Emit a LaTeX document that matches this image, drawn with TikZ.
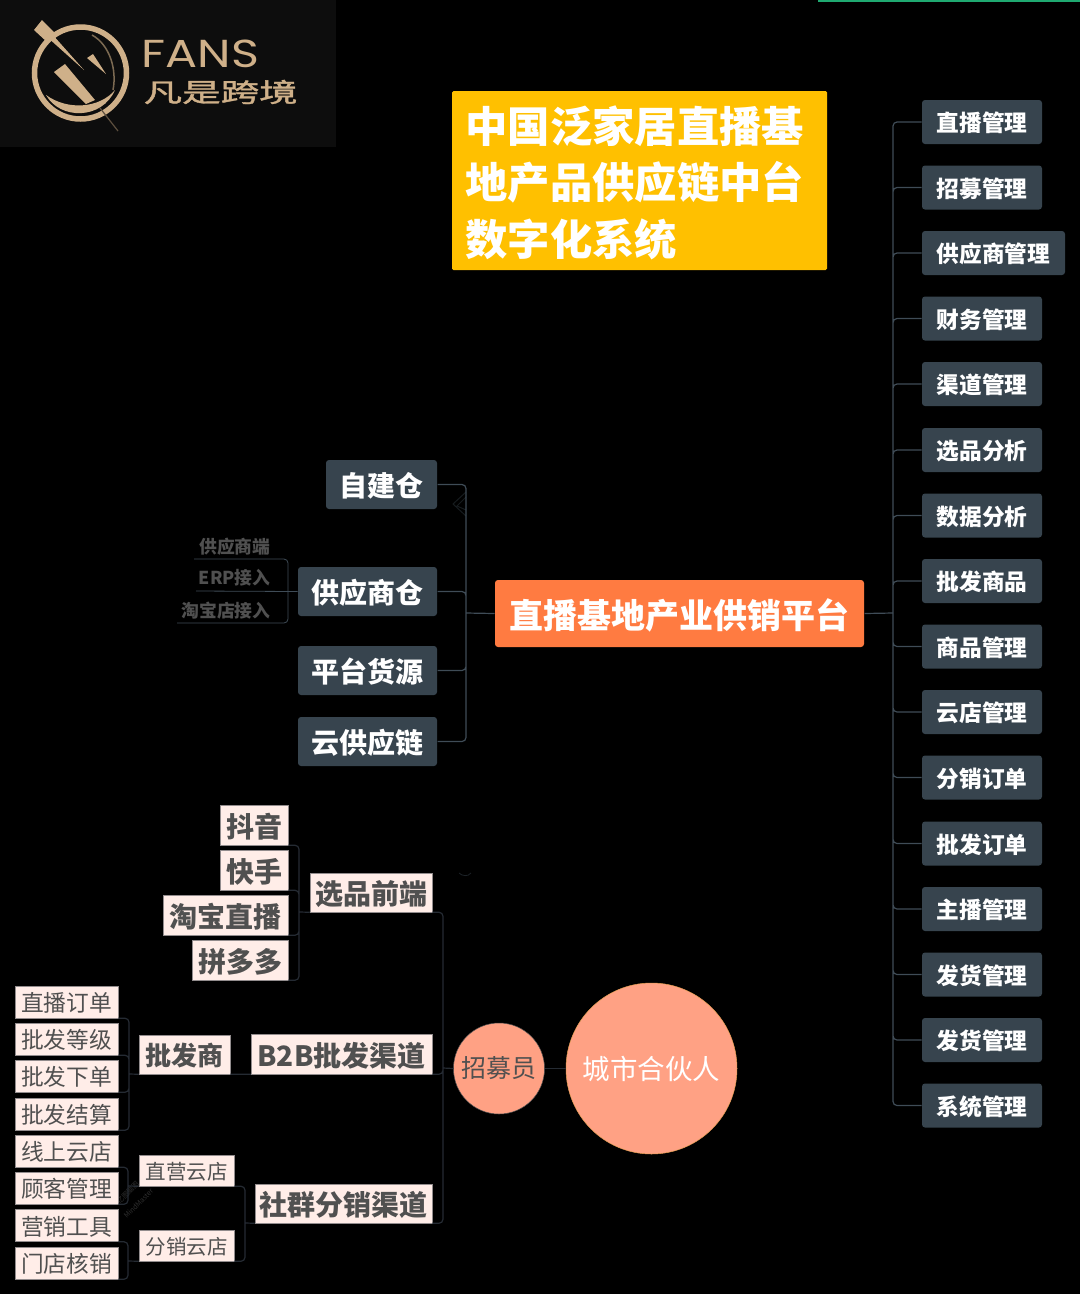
\documentclass[tikz,border=0pt]{standalone}
\usepackage{fontspec}
\setmainfont{Noto Sans CJK SC}
\newfontfamily\logofont{Poppins}
\newfontfamily\logocjk[FakeBold=1.2]{Noto Sans CJK SC}
\usepackage{tikz}
\definecolor{slatebox}{HTML}{37444E}
\definecolor{slateline}{HTML}{3F4C57}
\definecolor{darkline}{HTML}{252B33}
\definecolor{pinkbox}{HTML}{FFEDE8}
\definecolor{pinktext}{HTML}{505050}
\definecolor{salmon}{HTML}{FFA184}
\definecolor{logogold}{HTML}{CFB089}
\definecolor{titleyellow}{HTML}{FFC000}
\definecolor{rootorange}{HTML}{FF7B41}
\definecolor{topgreen}{HTML}{1FA971}
\definecolor{markgrey}{HTML}{2E2E2E}
\begin{document}
\begin{tikzpicture}[x=1pt,y=-1pt,line width=1pt,
  slatenode/.style={fill=slatebox,text=white,rounded corners=3pt,inner sep=0pt},
  rightnode/.style={slatenode,minimum height=44pt,text height=21.8pt,text depth=2.3pt,font=\fontsize{22.7}{26}\selectfont\bfseries},
  leftnode/.style={slatenode,minimum height=49pt,text height=26.9pt,text depth=2.8pt,font=\fontsize{28}{32}\selectfont\bfseries},
  pinknode/.style={fill=pinkbox,draw=darkline!50!pinkbox,line width=.5pt,text=pinktext,inner sep=0pt},
  bignode/.style={pinknode,text height=26.9pt,text depth=2.8pt,font=\fontsize{28}{32}\selectfont\bfseries},
  leafnode/.style={pinknode,minimum width=103pt,minimum height=32pt,text height=21.8pt,text depth=2.3pt,font=\fontsize{22.7}{26}\selectfont},
  storenode/.style={pinknode,minimum width=95pt,minimum height=31pt,text height=19.7pt,text depth=2.1pt,font=\fontsize{20.5}{24}\selectfont},
  ghostnode/.style={anchor=east,inner sep=0pt,text=pinktext,font=\fontsize{17.8}{22}\selectfont\bfseries},
  slatelink/.style={draw=slateline,line width=1.2pt,rounded corners=4pt},
  darklink/.style={draw=darkline,line width=1.2pt,rounded corners=4pt}]
\useasboundingbox[fill=black] (0,0) rectangle (1080,1294);
\fill[topgreen] (818,0) rectangle (1080,2);
% logo
\fill[black!95!white] (0,0) rectangle (336,147);
\draw[logogold,line width=5.5pt] (80.5,73) circle (46);
\fill[logogold] (46,95) .. controls (60,120) and (102,120) .. (115,90) .. controls (100,108) and (68,111) .. (46,95);
\draw[logogold!60!black,line width=1.5pt] (92,35) .. controls (110,45) and (117,70) .. (113,90);
\fill[logogold] (34,30) -- (42,20) -- (55,33) -- (47,42) -- cycle;
\fill[logogold] (46,36) -- (52,34) -- (84,70) -- cycle;
\fill[logogold] (87,58) -- (93,54) -- (106,74) -- cycle;
\fill[logogold] (54,72) -- (65,64) -- (95,100) -- (86,104) -- cycle;
\draw[logogold!45!black,line width=1.2pt] (100,108) -- (118,131);
\node[anchor=west,inner sep=0pt,text=logogold,xscale=1.22,transform shape,font=\logofont\fontsize{39}{44}\selectfont] (fans) at (141,54) {FANS};
\node[anchor=west,inner sep=0pt,text=logogold,xscale=1.48,transform shape,font=\logocjk\fontsize{26}{30}\selectfont] (fanshi) at (143,92) {凡是跨境};
% title
\node[fill=titleyellow,rounded corners=1.5pt,minimum width=375pt,minimum height=179pt,inner sep=0pt] (titlebox) at (639.5,180.5) {};
\node[anchor=west,inner sep=0pt,text=white,align=left,font=\fontsize{42.3}{56.5}\selectfont\bfseries] (title) at (465,182.5) {中国泛家居直播基\\地产品供应链中台\\数字化系统};
% root
\node[fill=rootorange,text=white,rounded corners=3pt,inner sep=0pt,minimum width=369pt,minimum height=67pt,text height=32.6pt,text depth=3.4pt,font=\fontsize{34}{38}\selectfont\bfseries] (root) at (679.5,613.5) {直播基地产业供销平台};
\coordinate (rightspine) at (893,613);
\coordinate (leftspine) at (466,613);
\draw[slatelink] (root.east) -- (rightspine);
\draw[slatelink] (root.west) -- (leftspine);
% right column
\node[rightnode,minimum width=120pt] (zhibo) at (982,122) {直播管理};
\node[rightnode,minimum width=120pt] (zhaomu) at (982,187.5) {招募管理};
\node[rightnode,minimum width=143pt] (gongying) at (993.5,253) {供应商管理};
\node[rightnode,minimum width=120pt] (caiwu) at (982,318.5) {财务管理};
\node[rightnode,minimum width=120pt] (qudao) at (982,384) {渠道管理};
\node[rightnode,minimum width=120pt] (xuanpin) at (982,450) {选品分析};
\node[rightnode,minimum width=120pt] (shuju) at (982,515.5) {数据分析};
\node[rightnode,minimum width=120pt] (pifa) at (982,581) {批发商品};
\node[rightnode,minimum width=120pt] (shangpin) at (982,646.5) {商品管理};
\node[rightnode,minimum width=120pt] (yundian) at (982,712) {云店管理};
\node[rightnode,minimum width=120pt] (fenxiao) at (982,777.5) {分销订单};
\node[rightnode,minimum width=120pt] (pifadan) at (982,843.5) {批发订单};
\node[rightnode,minimum width=120pt] (zhubo) at (982,909) {主播管理};
\node[rightnode,minimum width=120pt] (fahuoa) at (982,974.5) {发货管理};
\node[rightnode,minimum width=120pt] (fahuob) at (982,1040) {发货管理};
\node[rightnode,minimum width=120pt] (xitong) at (982,1105.5) {系统管理};
\draw[slatelink] (rightspine) |- (zhibo.west) (rightspine) |- (zhaomu.west) (rightspine) |- (gongying.west) (rightspine) |- (caiwu.west) (rightspine) |- (qudao.west) (rightspine) |- (xuanpin.west) (rightspine) |- (shuju.west) (rightspine) |- (pifa.west) (rightspine) |- (shangpin.west) (rightspine) |- (yundian.west) (rightspine) |- (fenxiao.west) (rightspine) |- (pifadan.west) (rightspine) |- (zhubo.west) (rightspine) |- (fahuoa.west) (rightspine) |- (fahuob.west) (rightspine) |- (xitong.west);
% warehouses
\node[leftnode,minimum width=111pt] (zijian) at (381.5,484.5) {自建仓};
\node[leftnode,minimum width=139pt] (gongcang) at (367.5,591.5) {供应商仓};
\node[leftnode,minimum width=139pt] (pingtai) at (367.5,670.5) {平台货源};
\node[leftnode,minimum width=139pt] (yungong) at (367.5,741.5) {云供应链};
\draw[draw=slateline!35!black,line width=1pt] (466,492) -- (453,504) -- (466,516) (466,497) -- (457,506) -- (466,510);
\draw[slatelink] (leftspine) |- (zijian.east) (leftspine) |- (gongcang.east) (leftspine) |- (pingtai.east) (leftspine) |- (yungong.east);
\draw[draw=slateline!45!black,line width=.8pt] (459,873) .. controls (462,876) and (468,877) .. (471,873);
\node[ghostnode] (duan) at (271,546.5) {供应商端};
\node[ghostnode] (erp) at (271,577.5) {ERP接入};
\node[ghostnode] (taobao) at (271,610.5) {淘宝店接入};
\coordinate (duanend) at (194,559);
\coordinate (erpend) at (196,591);
\coordinate (taobaoend) at (177,623);
\coordinate (gongjoin) at (288,591);
\draw[slatelink,line width=.8pt] (gongjoin) |- (duanend) (gongjoin) |- (taobaoend) (gongcang.west) -- (erpend);
% front end
\node[bignode,minimum width=68pt,minimum height=40pt] (douyin) at (254,825) {抖音};
\node[bignode,minimum width=68pt,minimum height=40pt] (kuaishou) at (254,870) {快手};
\node[bignode,minimum width=125pt,minimum height=40pt] (taobo) at (225.5,915) {淘宝直播};
\node[bignode,minimum width=96pt,minimum height=40pt] (pdd) at (240,960) {拼多多};
\node[bignode,minimum width=122pt,minimum height=39pt] (qianduan) at (371,892.5) {选品前端};
\coordinate (qianjoin) at (299,912);
\draw[darklink] (qianjoin) |- (douyin.south east) (qianjoin) |- (kuaishou.south east) (qianjoin) |- (taobo.south east) (qianjoin) |- (pdd.south east) (qianjoin) -- (qianduan.south west);
% b2b
\node[bignode,minimum width=181pt,minimum height=40pt] (btob) at (341.5,1054) {B2B批发渠道};
\node[bignode,minimum width=91pt,minimum height=39pt,text height=25pt,text depth=2.6pt,font=\fontsize{26}{30}\selectfont\bfseries] (pifashang) at (184.5,1054.5) {批发商};
\node[leafnode] (zbdd) at (66.5,1002) {直播订单};
\node[leafnode] (pfdj) at (66.5,1039) {批发等级};
\node[leafnode] (pfxd) at (66.5,1076) {批发下单};
\node[leafnode] (pfjs) at (66.5,1114) {批发结算};
\coordinate (pifajoin) at (129,1074);
\draw[darklink] (pifajoin) |- (zbdd.south east) (pifajoin) |- (pfdj.south east) (pifajoin) |- (pfxd.south east) (pifajoin) |- (pfjs.south east) (pifajoin) -- (pifashang.south west) (pifashang.south east) -- (btob.south west);
% cloud stores
\node[rotate=45,inner sep=0pt,text=markgrey,align=center,font=\fontsize{7}{15}\selectfont] (mark) at (133,1198) {亿图脑图\\MindMaster};
\node[bignode,minimum width=177pt,minimum height=39pt] (shequn) at (343.5,1203.5) {社群分销渠道};
\node[storenode] (zhiying) at (186.5,1170.5) {直营云店};
\node[storenode] (fendian) at (186.5,1245.5) {分销云店};
\node[leafnode] (xsyd) at (66.5,1151) {线上云店};
\node[leafnode] (gkgl) at (66.5,1188) {顾客管理};
\node[leafnode] (yxgj) at (66.5,1225.5) {营销工具};
\node[leafnode] (mdhx) at (66.5,1263) {门店核销};
\coordinate (zhijoin) at (128,1186);
\coordinate (fenjoin) at (128,1261);
\coordinate (shejoin) at (245,1223);
\draw[darklink] (zhijoin) |- (xsyd.south east) (zhijoin) |- (gkgl.south east) (zhijoin) -- (zhiying.south west);
\draw[darklink] (fenjoin) |- (yxgj.south east) (fenjoin) |- (mdhx.south east) (fenjoin) -- (fendian.south west);
\draw[darklink] (shejoin) |- (zhiying.south east) (shejoin) |- (fendian.south east) (shejoin) -- (shequn.south west);
% partners
\node[circle,fill=salmon,draw=pinktext,line width=.5pt,minimum size=91pt,inner sep=0pt,text=pinktext,font=\fontsize{25}{30}\selectfont] (zhaomuyuan) at (499,1068.5) {招募员};
\node[circle,fill=salmon,draw=logogold!60!orange,line width=.5pt,minimum size=171pt,inner sep=0pt,text=white,font=\fontsize{27.5}{32}\selectfont] (chengshi) at (651.5,1068.5) {城市合伙人};
\coordinate (lowerspine) at (443,1068);
\draw[darklink] (lowerspine) |- (qianduan.south east) (lowerspine) |- (btob.south east) (lowerspine) |- (shequn.south east) (lowerspine) -- (zhaomuyuan.west);
\draw[darklink] (zhaomuyuan.east) -- (chengshi.west);
\end{tikzpicture}
\end{document}
